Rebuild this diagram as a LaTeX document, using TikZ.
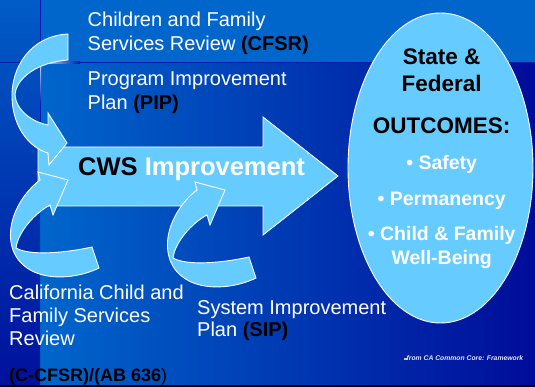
\documentclass[tikz,border=0pt]{standalone}
\usepackage{fontspec}
\setmainfont{Liberation Sans}
\definecolor{bgL}{HTML}{0066CC}
\definecolor{bgM}{HTML}{0050BC}
\definecolor{bgR}{HTML}{000C99}
\definecolor{bandc}{HTML}{0066CC}
\definecolor{stripT}{HTML}{005CC6}
\definecolor{stripB}{HTML}{00109C}
\definecolor{linec}{HTML}{0018B0}
\definecolor{lblue}{HTML}{66CCFF}
\definecolor{fnc}{HTML}{E8E8E8}
\definecolor{fnbul}{HTML}{D8D070}
\tikzset{
  shapestyle/.style={fill=lblue, draw=white, line width=0.9pt, line join=miter},
  wtxt/.style={text=white, inner sep=0pt, anchor=base west, font=\fontsize{20}{24}\selectfont},
  etxt/.style={inner sep=0pt, anchor=base, font=\fontsize{22.5}{27}\selectfont\bfseries},
  ebul/.style={inner sep=0pt, anchor=base, text=white, font=\fontsize{19.5}{23}\selectfont\bfseries},
  curvarrow/.pic={
    \path[shapestyle] (40,180) -- (38,172) -- (68,180) -- (53,215) -- (50,205)
      .. controls (35,213) and (18,232) .. (16,248)
      .. controls (30,256) and (65,253) .. (92,247)
      -- (99,268)
      .. controls (70,282) and (25,282) .. (13,250)
      .. controls (4,225) and (20,195) .. (40,180) -- cycle;
  }
}
\begin{document}
\begin{tikzpicture}[x=1pt,y=-1pt]
\useasboundingbox (0,0) rectangle (535,387);
% background
\fill[left color=bgL, middle color=bgM, right color=bgR] (40,0) rectangle (535,385);
\fill[bandc] (40,0) rectangle (535,62.5);
\fill[top color=stripT, bottom color=stripB] (0,0) rectangle (40,385);
\fill[black] (0,385) rectangle (535,387);
% template lines
\draw[linec, line width=1.1pt] (0,62.5) -- (535,62.5);
\draw[linec, line width=1.1pt] (40.5,0) -- (40.5,122);
\shade[top color=white!85!linec, bottom color=linec] (40,63) rectangle (41.1,105);
\shade[left color=white!85!linec, right color=linec] (41,62) rectangle (80,63.1);
% big arrow
\path[shapestyle] (38,147) -- (263,147) -- (263,117) -- (338,176) -- (263,235) -- (263,206) -- (38,206) -- cycle;
% ellipse
\path[shapestyle] (440.5,168) ellipse [x radius=92.5pt, y radius=155pt];
% top curved arrow
\path[shapestyle] (68,34)
  .. controls (30,36) and (11,68) .. (12,98)
  .. controls (13,128) and (30,148) .. (48,153)
  -- (49,165) -- (67,143) -- (48,113) -- (48,125)
  .. controls (32,122) and (16,110) .. (15,95)
  .. controls (16,78) and (38,62) .. (68,60) -- cycle;
% lower curved arrows
\pic at (0,0) {curvarrow};
\pic at (157,10) {curvarrow};
% texts
\node[wtxt] (t1) at (87.5,26.7) {Children and Family};
\node[wtxt] (t2) at (87.5,50.7) {Services Review {\bfseries\color{black}(CFSR)}};
\node[wtxt] (t3) at (87.5,86) {Program Improvement};
\node[wtxt] (t4) at (87.5,110) {Plan {\bfseries\color{black}(PIP)}};
\node[wtxt, font=\fontsize{25.5}{30}\selectfont\bfseries] (cws) at (78,176) {{\color{black}CWS} Improvement};
\node[wtxt] (b1) at (9,299.3) {California Child and};
\node[wtxt] (b2) at (9,322.7) {Family Services};
\node[wtxt] (b3) at (9,345.7) {Review};
\node[wtxt, text=black, font=\fontsize{18}{20}\selectfont\bfseries] (b4) at (9,381.7) {(C-CFSR)/(AB 636{\mdseries)}};
\node[wtxt] (s1) at (197,314) {System Improvement};
\node[wtxt] (s2) at (197,336.7) {Plan {\bfseries\color{black}(SIP)}};
\node[etxt] (e1) at (441.7,64.3) {State \&};
\node[etxt] (e2) at (441.7,91.7) {Federal};
\node[etxt] (e3) at (441.7,133.3) {OUTCOMES:};
\node[ebul] (e4) at (441.7,170) {• Safety};
\node[ebul] (e5) at (441.7,205.7) {• Permanency};
\node[ebul] (e6) at (441.7,240.7) {• Child \& Family};
\node[ebul] (e7) at (441.7,264.3) {Well-Being};
\node[inner sep=0pt, anchor=base west, text=fnc, font=\fontsize{6.8}{8}\selectfont\bfseries\itshape] (fn) at (404,360) {{\color{fnbul}\rule{2.4pt}{2.4pt}}from CA Common Core: Framework};
\end{tikzpicture}
\end{document}
